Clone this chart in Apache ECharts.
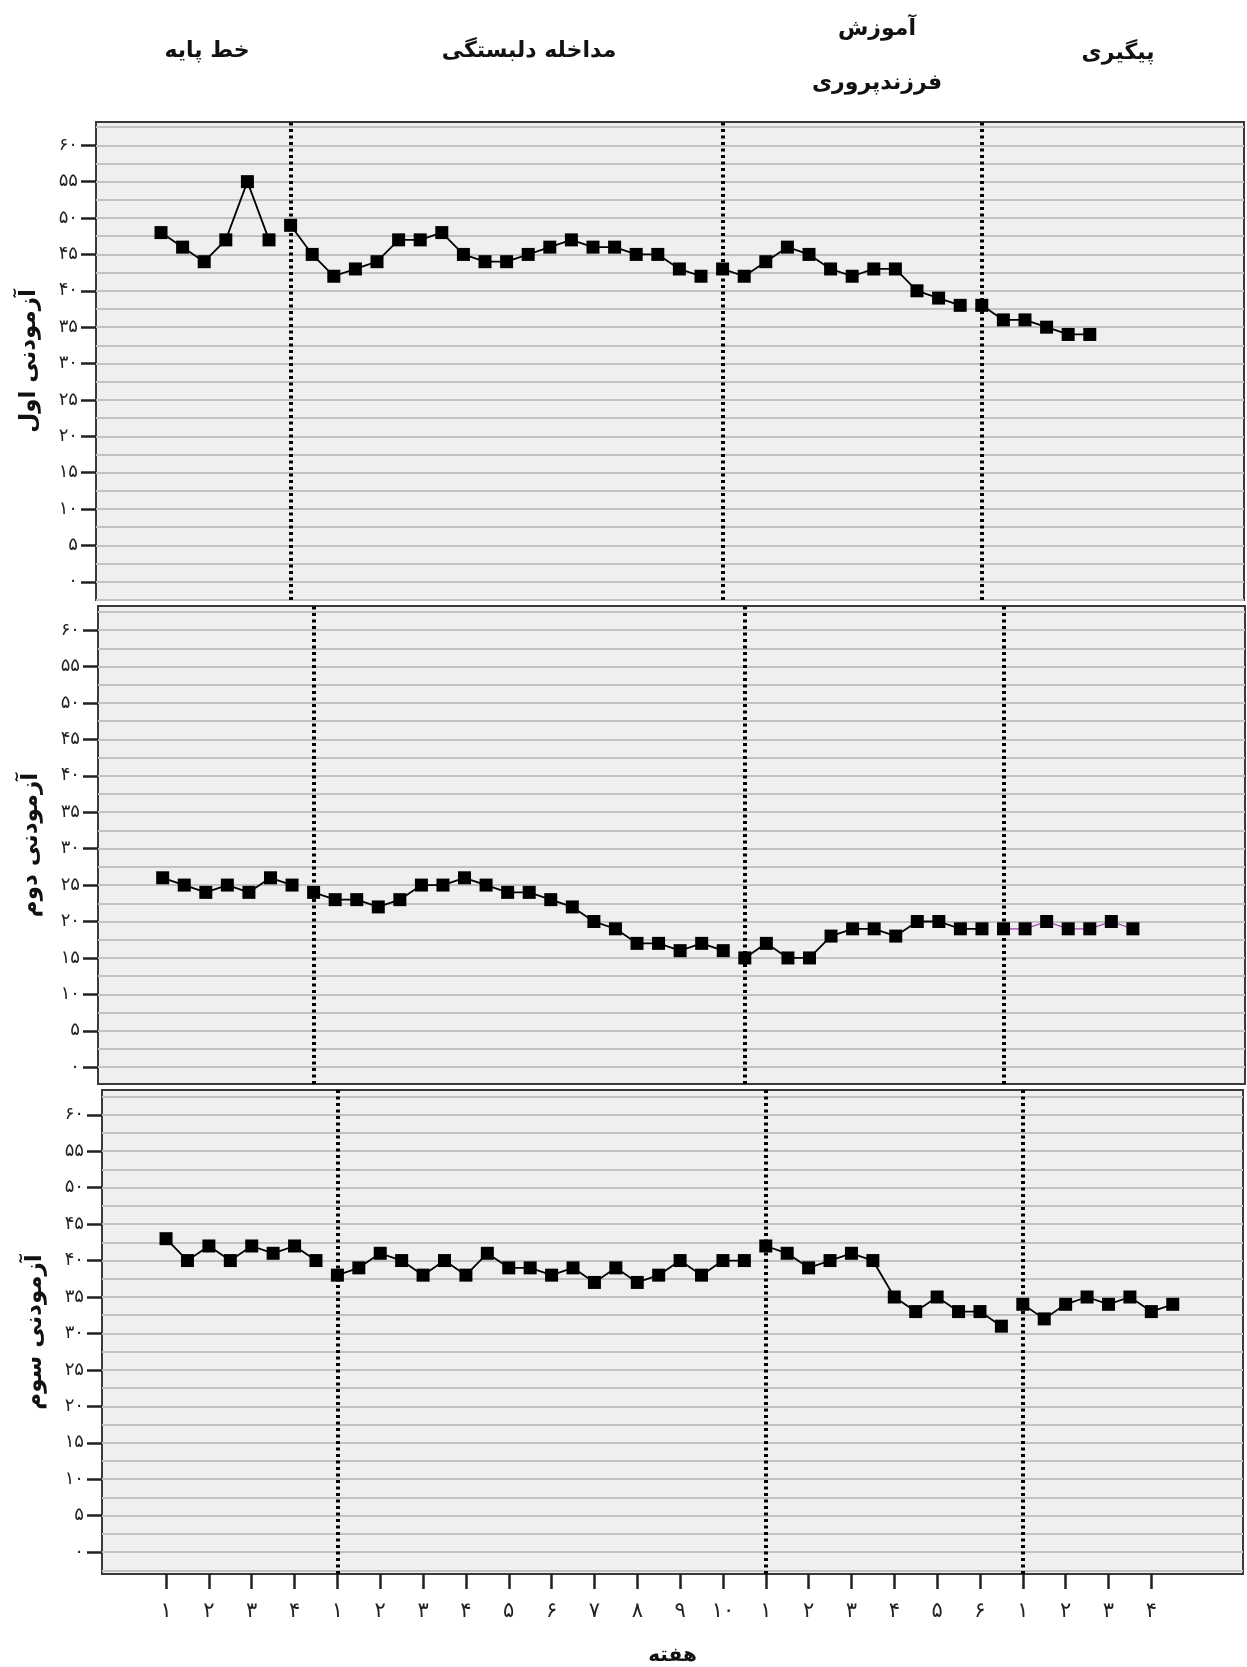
<!DOCTYPE html>
<html><head><meta charset="utf-8">
<script src="https://cdn.jsdelivr.net/npm/echarts@6/dist/echarts.min.js"></script>
<style>html,body{margin:0;padding:0;background:#fff}#c{width:1247px;height:1667px}</style>
</head><body><div id="c"></div>
<script>
// ---- text ----
const phaseTitles = ['خط پایه', 'مداخله دلبستگی', 'آموزش', 'فرزندپروری', 'پیگیری'];
const subjectNames = ['آزمودنی اول', 'آزمودنی دوم', 'آزمودنی سوم'];
const xAxisName = 'هفته';
const weekLabels = ['۱','۲','۳','۴','۱','۲','۳','۴','۵','۶','۷','۸','۹','۱۰','۱','۲','۳','۴','۵','۶','۱','۲','۳','۴'];
const weekTickPositions = [0,2,4,6,8,10,12,14,16,18,20,22,24,26,28,30,32,34,36,38,40,42,44,46];
const yTickValues = [0,5,10,15,20,25,30,35,40,45,50,55,60];
const yTickLabels = ['۰','۵','۱۰','۱۵','۲۰','۲۵','۳۰','۳۵','۴۰','۴۵','۵۰','۵۵','۶۰'];
const gridLineValues = [-2.5,0,2.5,5,7.5,10,12.5,15,17.5,20,22.5,25,27.5,30,32.5,35,37.5,40,42.5,45,47.5,50,52.5,55,57.5,60,62.5];

// ---- subject 1 ----
const s1Baseline   = [48,46,44,47,55,47];
const s1Attachment = [49,45,42,43,44,47,47,48,45,44,44,45,46,47,46,46,45,45,43,42];
const s1Parenting  = [43,42,44,46,45,43,42,43,43,40,39,38];
const s1FollowUp   = [38,36,36,35,34,34];
// ---- subject 2 ----
const s2Baseline   = [26,25,24,25,24,26,25];
const s2Attachment = [24,23,23,22,23,25,25,26,25,24,24,23,22,20,19,17,17,16,17,16];
const s2Parenting  = [15,17,15,15,18,19,19,18,20,20,19,19];
const s2FollowUp   = [19,19,20,19,19,20,19];
// ---- subject 3 ----
const s3Baseline   = [43,40,42,40,42,41,42,40];
const s3Attachment = [38,39,41,40,38,40,38,41,39,39,38,39,37,39,37,38,40,38,40,40];
const s3Parenting  = [42,41,39,40,41,40,35,33,35,33,33,31];
const s3FollowUp   = [34,32,34,35,34,35,33,34];

const subjects = [
  [s1Baseline, s1Attachment, s1Parenting, s1FollowUp],
  [s2Baseline, s2Attachment, s2Parenting, s2FollowUp],
  [s3Baseline, s3Attachment, s3Parenting, s3FollowUp]
];

const FONT = 'DejaVu Sans';
const grids = [
  {left: 96, top: 122, width: 1148, height: 478},
  {left: 98, top: 606, width: 1147, height: 478},
  {left: 102, top: 1090, width: 1141, height: 485}
];
const yRanges = [[-2.5, 63.2], [-2.3, 63.3], [-3.0, 63.4]];
const xRanges = [[-3.01, 50.14], [-3.0, 50.2], [-2.99, 50.28]];

const gridOpts = grids.map(g => Object.assign({
  show: true, backgroundColor: '#efefef', borderColor: '#3a3a3a', borderWidth: 2
}, g));

const xAxes = grids.map((g, k) => {
  const last = k === 2;
  return {
    type: 'value', gridIndex: k, min: xRanges[k][0], max: xRanges[k][1], show: last,
    splitLine: {show: false},
    axisLine: {show: true, onZero: false, lineStyle: {color: '#3a3a3a', width: 2}},
    axisTick: {show: true, customValues: weekTickPositions, length: 15, lineStyle: {color: '#222', width: 2.5}},
    axisLabel: {
      show: true, customValues: weekTickPositions, margin: 27, fontSize: 21, color: '#222', fontFamily: FONT,
      formatter: v => { const i = weekTickPositions.indexOf(v); return i >= 0 ? weekLabels[i] : ''; }
    },
    name: last ? xAxisName : '', nameLocation: 'middle', nameGap: 72,
    nameTextStyle: {fontSize: 20, fontWeight: 'bold', color: '#111', fontFamily: FONT}
  };
});

const yAxes = grids.map((g, k) => ({
  type: 'value', gridIndex: k, min: yRanges[k][0], max: yRanges[k][1],
  splitLine: {show: false},
  axisLine: {show: true, onZero: false, lineStyle: {color: '#3a3a3a', width: 2}},
  axisTick: {show: true, customValues: yTickValues, length: 15, lineStyle: {color: '#222', width: 2.5}},
  axisLabel: {
    show: true, customValues: yTickValues, margin: 18, fontSize: 18, color: '#222', fontFamily: FONT,
    formatter: v => { const i = yTickValues.indexOf(v); return i >= 0 ? yTickLabels[i] : ''; }
  },
  name: subjectNames[k], nameLocation: 'middle', nameRotate: 90, nameGap: 55,
  nameTextStyle: {fontSize: 23, fontWeight: 'bold', color: '#111', fontFamily: FONT}
}));

const series = [];
subjects.forEach((phases, k) => {
  const starts = [];
  let s = 0;
  phases.forEach(p => { starts.push(s); s += p.length; });
  // horizontal gridlines
  series.push({
    type: 'line', xAxisIndex: k, yAxisIndex: k, data: [], z: 1, silent: true,
    markLine: {
      z: 1, silent: true, symbol: ['none', 'none'], label: {show: false}, animation: false,
      data: gridLineValues.map(v => ({yAxis: v, lineStyle: {color: '#c2c2c2', width: 2, type: 'solid'}}))
    }
  });
  // phase-change lines
  series.push({
    type: 'line', xAxisIndex: k, yAxisIndex: k, data: [], z: 2, silent: true,
    markLine: {
      z: 2, silent: true, symbol: ['none', 'none'], label: {show: false}, animation: false,
      data: starts.slice(1).map(x => ({xAxis: x, lineStyle: {color: '#000', width: 4, type: [3, 3.5]}}))
    }
  });
  phases.forEach((vals, p) => {
    const purple = (k === 1 && p === 3);
    series.push({
      type: 'line', xAxisIndex: k, yAxisIndex: k, z: 3,
      data: vals.map((v, j) => [starts[p] + j, v]),
      symbol: 'rect', symbolSize: 13,
      itemStyle: {color: '#000'},
      lineStyle: {color: purple ? '#a040b0' : '#000', width: purple ? 1.3 : 1.8},
      animation: false
    });
  });
});

const titleStyle = (text, x, y) => ({
  type: 'text', x: x, y: y,
  style: {text: text, font: 'bold 22px "' + FONT + '"', fill: '#111', textAlign: 'center', textVerticalAlign: 'middle'}
});

const chart = echarts.init(document.getElementById('c'), null, {renderer: 'canvas'});
chart.setOption({
  animation: false,
  grid: gridOpts,
  xAxis: xAxes,
  yAxis: yAxes,
  series: series,
  graphic: [
    titleStyle(phaseTitles[0], 207, 51),
    titleStyle(phaseTitles[1], 529, 51),
    titleStyle(phaseTitles[2], 877, 29),
    titleStyle(phaseTitles[3], 877, 83),
    titleStyle(phaseTitles[4], 1118, 53)
  ]
});
</script>
</body></html>
